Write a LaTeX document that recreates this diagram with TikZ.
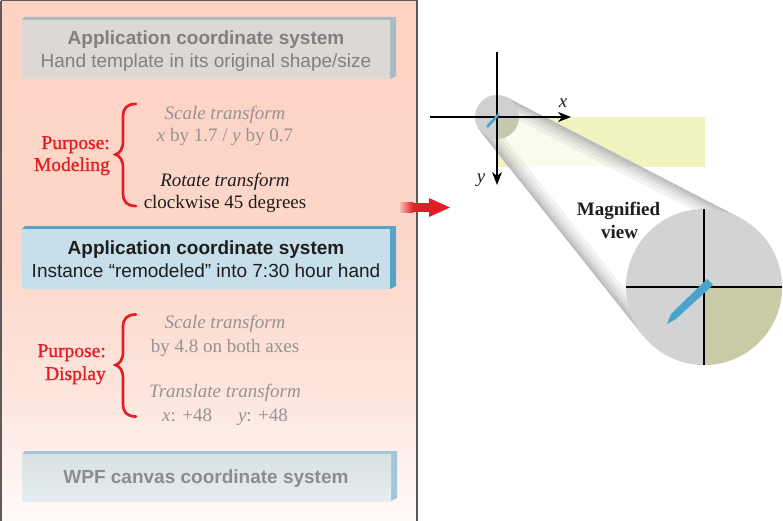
\documentclass[tikz,border=0pt]{standalone}
\usepackage{fontspec}
\setmainfont{Liberation Serif}
\setsansfont{Liberation Sans}
\newfontfamily\purposefont[FakeBold=1.2]{Liberation Serif}
\usetikzlibrary{arrows.meta,shadings}
\definecolor{bgtop}{RGB}{253,210,194}
\definecolor{bgmid}{RGB}{252,216,202}
\definecolor{bglow}{RGB}{253,230,222}
\definecolor{bgbot}{RGB}{255,250,248}
\definecolor{framec}{RGB}{95,90,90}
\definecolor{bAface}{RGB}{221,216,214}
\definecolor{bAside}{RGB}{168,188,198}
\definecolor{bAtext}{RGB}{128,128,128}
\definecolor{bBface}{RGB}{198,223,234}
\definecolor{bBside}{RGB}{86,163,199}
\definecolor{bBtext}{RGB}{30,30,30}
\definecolor{bCface}{RGB}{221,230,234}
\definecolor{bCside}{RGB}{165,198,215}
\definecolor{bCtext}{RGB}{137,141,143}
\definecolor{softgray}{RGB}{150,147,147}
\definecolor{darktext}{RGB}{30,28,28}
\definecolor{bracered}{RGB}{228,30,38}
\definecolor{arrowred}{RGB}{228,30,38}
\definecolor{yellowr}{RGB}{241,243,193}
\definecolor{circgray}{RGB}{150,150,155}
\definecolor{bigcirc}{RGB}{210,211,213}
\definecolor{quadc}{RGB}{200,203,165}
\definecolor{handblue}{RGB}{74,163,204}
\definecolor{conegray}{RGB}{140,140,145}
\begin{document}
\begin{tikzpicture}[x=1pt,y=-1pt,
  sansb/.style={font=\fontsize{19}{22}\selectfont\sffamily\bfseries, anchor=base, inner sep=0pt},
  sansr/.style={font=\fontsize{19}{22}\selectfont\sffamily, anchor=base, inner sep=0pt},
  serif/.style={font=\fontsize{19}{22}\selectfont, anchor=base, inner sep=0pt},
  serifit/.style={font=\fontsize{19}{22}\selectfont\itshape, anchor=base, inner sep=0pt},
  purpose/.style={font=\fontsize{19.5}{23}\selectfont\purposefont, text=bracered, anchor=base east, inner sep=0pt},
  redbrace/.style={draw=bracered, line width=2.7pt, line cap=round},
  axisline/.style={draw=black, line width=1.3pt, -{Stealth[length=13pt,width=10pt,inset=4pt]}},
  thinaxis/.style={draw=black, line width=1.1pt},
]
\useasboundingbox (0,0) rectangle (783,521);
% ---------- left panel background ----------
\shade[top color=bgtop, bottom color=bgmid] (0,0) rectangle (417,260);
\shade[top color=bgmid, bottom color=bglow] (0,259.5) rectangle (417,400);
\shade[top color=bglow, bottom color=bgbot] (0,399.5) rectangle (417,521);
\draw[framec, line width=1.5pt] (0.75,0.75) -- (417,0.75) -- (417,530);
\draw[framec, line width=1.5pt] (0.75,0.75) -- (0.75,530);
% ---------- box 1 ----------
\fill[bAside] (22,20) -- (25,17) -- (396,17) -- (396,76) -- (390,79) -- cycle;
\fill[bAface] (22,20) rectangle (390,79);
\node[sansb, text=bAtext] (b1t) at (206,45) {Application coordinate system};
\node[sansr, text=bAtext] (b1s) at (206,68) {Hand template in its original shape/size};
% ---------- modeling group ----------
\node[purpose] (p1a) at (110,149) {Purpose:};
\node[purpose] (p1b) at (110,171) {Modeling};
\draw[redbrace] (136,104) .. controls (127,104) and (123,108) .. (123,117)
   -- (123,141) .. controls (123,149) and (120,153) .. (115.5,154.5)
   .. controls (120,156) and (123,160) .. (123,168)
   -- (123,193) .. controls (123,202) and (127,206) .. (136,206);
\node[serifit, text=softgray] (m1) at (225,120) {Scale transform};
\node[serif, text=softgray] (m2) at (225,142) {{\itshape x} by 1.7 / {\itshape y} by 0.7};
\node[serifit, text=darktext] (m3) at (225,186) {Rotate transform};
\node[serif, text=darktext] (m4) at (225,208) {clockwise 45 degrees};
% ---------- box 2 ----------
\fill[bBside] (22,229) -- (25,226) -- (396,226) -- (396,286) -- (390,289) -- cycle;
\fill[bBface] (22,229) rectangle (390,289);
\node[sansb, text=bBtext] (b2t) at (206,254) {Application coordinate system};
\node[sansr, text=bBtext] (b2s) at (206,277) {Instance “remodeled” into 7:30 hour hand};
% ---------- display group ----------
\node[purpose] (p2a) at (106,357) {Purpose:};
\node[purpose] (p2b) at (106,380) {Display};
\begin{scope}[shift={(0,210.5)}]
\draw[redbrace] (136,104) .. controls (127,104) and (123,108) .. (123,117)
   -- (123,141) .. controls (123,149) and (120,153) .. (115.5,154.5)
   .. controls (120,156) and (123,160) .. (123,168)
   -- (123,193) .. controls (123,202) and (127,206) .. (136,206);
\end{scope}
\node[serifit, text=softgray] (d1) at (225,328) {Scale transform};
\node[serif, text=softgray] (d2) at (225,352) {by 4.8 on both axes};
\node[serifit, text=softgray] (d3) at (225,397) {Translate transform};
\node[serif, text=softgray] (d4) at (225,421) {{\itshape x}: +48\hspace{26pt}{\itshape y}: +48};
% ---------- box 3 ----------
\fill[bCside] (22,454) -- (25,451) -- (397,451) -- (397,498) -- (391,501) -- cycle;
\shade[top color=bCface!95!gray, bottom color=bCface!70!white] (22,454) rectangle (391,501);
\node[sansb, text=bCtext] (b3t) at (206,483) {WPF canvas coordinate system};
% ---------- right side ----------
\fill[yellowr] (497,117) rectangle (705,167);
\begin{scope}[transform canvas={shift={(497,117)},rotate=-39.4}]
  \path[clip] (-4.6,-21.5) -- (251.6,-76.3) -- (251.6,76.3) -- (-4.6,21.5)
     arc[start angle=-102.1, end angle=102.1, radius=22pt] -- cycle;
  \fill[white, fill opacity=0.7] (-30,-90) rectangle (270,90);
  \foreach \w/\o in {30/0.10,22/0.12,15/0.14,9/0.18,4/0.22} {
    \draw[conegray, line width=\w pt, draw opacity=\o] (-20,-18.2) -- (270,-80.2);
    \draw[conegray, line width=\w pt, draw opacity=\o] (-20,18.2) -- (270,80.2);
  }
\end{scope}
\coordinate (o) at (497,117);
\fill[circgray, fill opacity=0.45] (o) circle[radius=22pt];
\coordinate (xl) at (430,117);
\coordinate (xr) at (571,117);
\coordinate (yt) at (497,52);
\coordinate (yb) at (497,185);
\draw[axisline] (xl) -- (xr);
\draw[axisline] (yt) -- (yb);
\coordinate (h1) at (487,127);
\coordinate (h2) at (499,114);
\draw[handblue, line width=2.6pt] (h1) -- (h2);
\node[serifit, text=darktext] (xlab) at (563,108) {x};
\node[serifit, text=darktext] (ylab) at (481,183) {y};
% big circle
\coordinate (c) at (704,287);
\fill[bigcirc] (c) circle[radius=78pt];
\fill[quadc] (c) -- (782,287) arc[start angle=0, end angle=-90, radius=78pt] -- cycle;
\coordinate (cvt) at (704,209);
\coordinate (cvb) at (704,365);
\coordinate (chl) at (626,287);
\coordinate (chr) at (782,287);
\draw[thinaxis] (cvt) -- (cvb);
\draw[thinaxis] (chl) -- (chr);
\fill[handblue] (707,279) -- (713,285) -- (676,319) -- (667,324) -- (671,314) -- cycle;
\node[font=\fontsize{19}{22}\selectfont\bfseries, text=darktext, anchor=base, inner sep=0pt] (mg1) at (618.5,215) {Magnified};
\node[font=\fontsize{19}{22}\selectfont\bfseries, text=darktext, anchor=base, inner sep=0pt] (mg2) at (619.5,238) {view};
% red arrow
\shade[left color=arrowred!15!bgmid, right color=arrowred] (400,203) rectangle (413,212);
\fill[arrowred] (412.5,203) rectangle (431,212);
\fill[arrowred] (429,198) -- (450,207.5) -- (429,217) -- cycle;
\end{tikzpicture}
\end{document}
